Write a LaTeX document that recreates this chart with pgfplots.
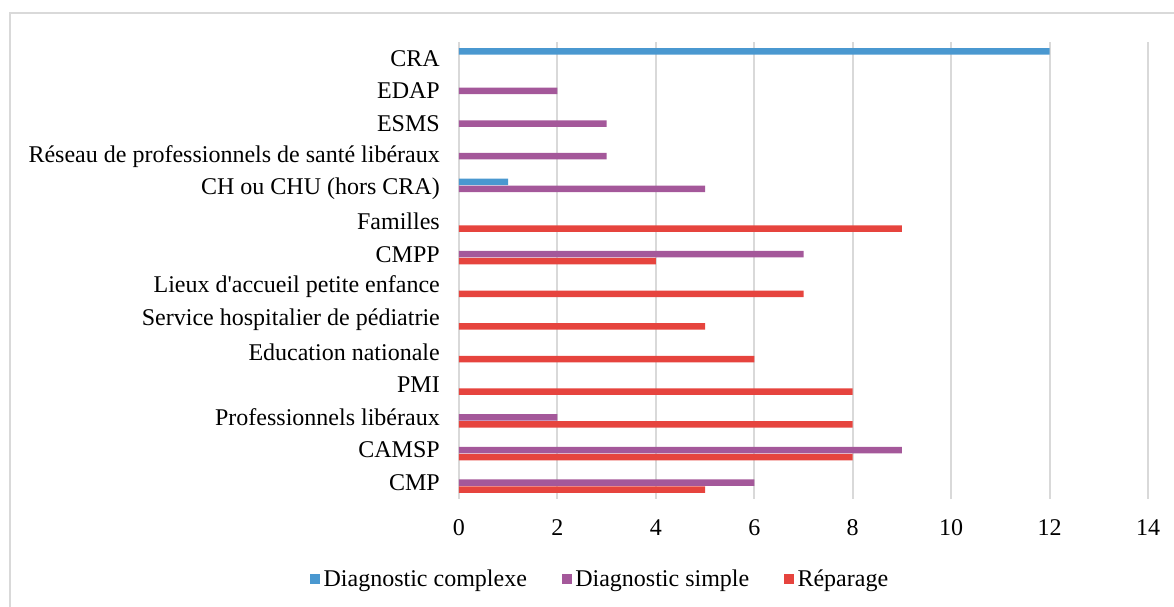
\documentclass[border=0pt]{standalone}
\usepackage{pgfplots}
\pgfplotsset{compat=1.18}
\usepackage{fontspec}
\setmainfont{Liberation Serif}
\definecolor{cblue}{HTML}{4A98D0}
\definecolor{cpurple}{HTML}{A4589A}
\definecolor{cred}{HTML}{E6443E}
\definecolor{cgrid}{HTML}{D9D9D9}
\begin{document}
\begin{tikzpicture}
\useasboundingbox (0,0) rectangle (704.4pt,364.2pt);
\draw[cgrid, line width=1.2pt] (6pt,0pt) -- (6pt,356.4pt) -- (704.4pt,356.4pt);
\begin{axis}[
  at={(275.4pt,64.8pt)}, anchor=south west,
  scale only axis, width=413.4pt, height=274.2pt,
  xmin=0, xmax=14, ymin=-0.5, ymax=13.5,
  xtick={0,2,...,14},
  ytick={0,...,13},
  yticklabels={CMP,CAMSP,Professionnels libéraux,PMI,Education nationale,Service hospitalier de pédiatrie,Lieux d\textquotesingle accueil petite enfance,CMPP,Familles,CH ou CHU (hors CRA),Réseau de professionnels de santé libéraux,ESMS,EDAP,CRA},
  axis line style={draw=none},
  major tick length=0pt,
  xmajorgrids, grid style={cgrid, line width=1.2pt},
  tick label style={font=\fontsize{14.4}{16}\selectfont, black},
  /pgf/number format/assume math mode=true,
  xticklabel style={yshift=-9pt},
  yticklabel style={xshift=-8pt},
  xbar, bar width=3.9pt,
  clip=false,
  legend columns=3,
  legend style={at={(0.206,-0.175)}, anchor=center, draw=none, font=\fontsize{14.4}{16}\selectfont,
    /tikz/every even column/.append style={column sep=19pt}},
  legend image code/.code={\fill[#1] (0pt,-3pt) rectangle (6pt,3pt);},
]
\addplot[fill=cblue, draw=none, bar shift=4.2pt] coordinates {(12,13) (1,9)};
\addplot[fill=cpurple, draw=none, bar shift=0pt] coordinates {(2,12) (3,11) (3,10) (5,9) (7,7) (2,2) (9,1) (6,0)};
\addplot[fill=cred, draw=none, bar shift=-4.2pt] coordinates {(9,8) (4,7) (7,6) (5,5) (6,4) (8,3) (8,2) (8,1) (5,0)};
\legend{Diagnostic complexe, Diagnostic simple, Réparage}
\end{axis}
\end{tikzpicture}
\end{document}
